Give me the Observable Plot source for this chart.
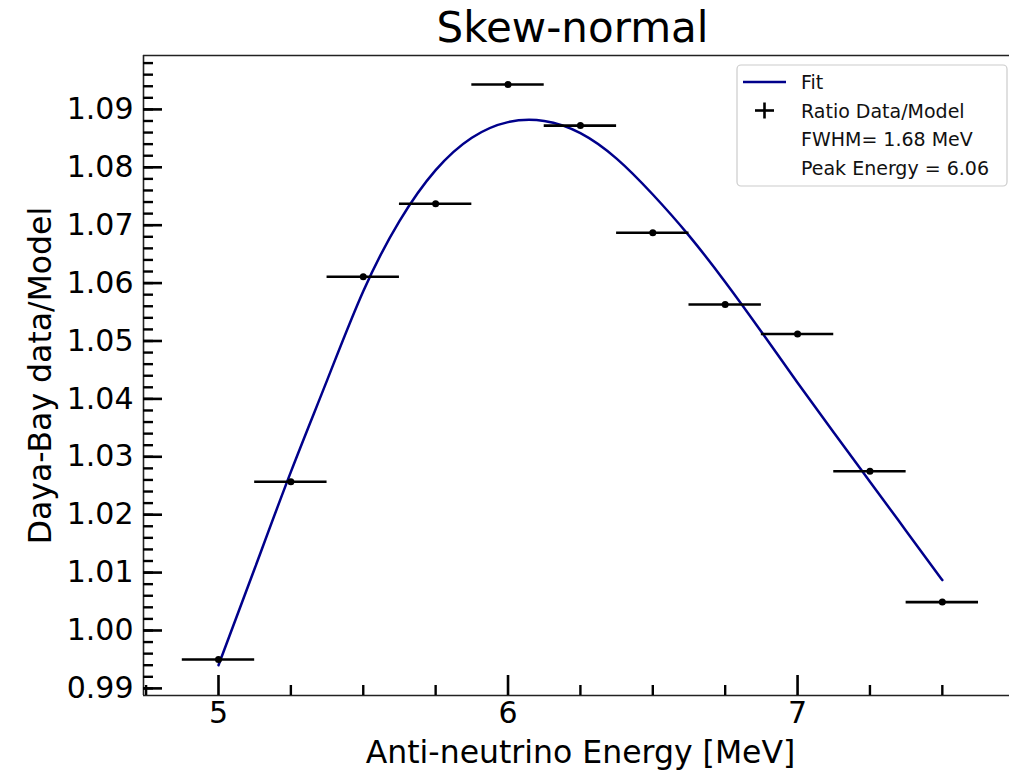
<!DOCTYPE html>
<html>
<head>
<meta charset="utf-8">
<script src="https://cdn.jsdelivr.net/npm/d3@7"></script>
<script src="https://cdn.jsdelivr.net/npm/@observablehq/plot@0.6"></script>
<style>
  html, body { margin: 0; padding: 0; background: white; }
  svg { display: block; }
</style>
</head>
<body>
<div id="chart"></div>
<script>
// ---- data ----
const energies = [5.0, 5.25, 5.5, 5.75, 6.0, 6.25, 6.5, 6.75, 7.0, 7.25, 7.5];
const ratios   = [0.9950, 1.0257, 1.0611, 1.0737, 1.0943, 1.0872, 1.0687, 1.0563, 1.0512, 1.0275, 1.0049];
const xErr = 0.125;

const fitEnergy = [5.000, 5.125, 5.250, 5.375, 5.500, 5.625, 5.750, 5.875, 6.000, 6.125,
                   6.250, 6.375, 6.500, 6.625, 6.750, 6.875, 7.000, 7.125, 7.250, 7.375, 7.500];
const fitRatio  = [0.9940, 1.0107, 1.0274, 1.0432, 1.0586, 1.0707, 1.0795, 1.0851, 1.0878, 1.0880,
                   1.0859, 1.0815, 1.0753, 1.0682, 1.0602, 1.0516, 1.0428, 1.0342, 1.0257, 1.0172, 1.0087];

const xTicks = [5, 6, 7];
const xMinorTicks = [4.75, 5.25, 5.5, 5.75, 6.25, 6.5, 6.75, 7.25, 7.5];
const yTicks = [0.99, 1.00, 1.01, 1.02, 1.03, 1.04, 1.05, 1.06, 1.07, 1.08, 1.09];
const yMinorTicks = d3.range(0, 55).map(i => +(0.99 + i * 0.002).toFixed(3));

const titleText = "Skew-normal";
const xLabel = "Anti-neutrino Energy [MeV]";
const yLabel = "Daya-Bay data/Model";
const legendLabels = ["Fit", "Ratio Data/Model", "FWHM= 1.68 MeV", "Peak Energy = 6.06"];

// ---- build ----
const points = energies.map((x, i) => ({x, y: ratios[i]}));
const fit = fitEnergy.map((x, i) => ({x, y: fitRatio[i]}));

const W = 1009, H = 771, mL = 143, mR = 0, mT = 55, mB = 76;
const frameW = W - mL - mR, frameH = H - mT - mB;
const xDomain = [4.741, 7.732];
const yDomain = [0.98877, 1.09931];
const fitColor = "#00008b";

const plot = Plot.plot({
  width: W, height: H,
  marginLeft: mL, marginRight: mR, marginTop: mT, marginBottom: mB,
  style: {fontFamily: "DejaVu Sans", background: "white", color: "black"},
  x: {domain: xDomain, axis: null},
  y: {domain: yDomain, axis: null},
  marks: [
    // spines
    Plot.ruleX([xDomain[0]], {stroke: "#222", strokeWidth: 1.6}),
    Plot.ruleY([yDomain[0], yDomain[1]], {stroke: "#222", strokeWidth: 1.6}),
    // inward ticks
    Plot.tickY(yMinorTicks, {y: d => d, insetRight: frameW - 10, stroke: "black", strokeWidth: 2.4}),
    Plot.tickY(yTicks, {y: d => d, insetRight: frameW - 19, stroke: "black", strokeWidth: 2.6}),
    Plot.tickX(xMinorTicks, {x: d => d, insetTop: frameH - 10, stroke: "black", strokeWidth: 2.4}),
    Plot.tickX(xTicks, {x: d => d, insetTop: frameH - 20, stroke: "black", strokeWidth: 2.6}),
    // tick labels
    Plot.axisY(yTicks, {tickSize: 0, tickPadding: 10, fontSize: 30, tickFormat: d3.format(".2f"), label: null}),
    Plot.axisX(xTicks, {tickSize: 0, tickPadding: 6, fontSize: 30, tickFormat: d3.format("d"), label: null}),
    // fit curve
    Plot.line(fit, {x: "x", y: "y", stroke: fitColor, strokeWidth: 2.5, curve: "natural"}),
    // data with x error bars
    Plot.ruleY(points, {x1: d => d.x - xErr, x2: d => d.x + xErr, y: "y", stroke: "black", strokeWidth: 2.6}),
    Plot.dot(points, {x: "x", y: "y", r: 3.5, fill: "black"}),
    // title and axis labels
    Plot.text([titleText], {text: d => d, frameAnchor: "top", lineAnchor: "middle", textAnchor: "middle", dx: -4, dy: -27, fontSize: 42}),
    Plot.text([xLabel], {text: d => d, frameAnchor: "bottom", lineAnchor: "middle", textAnchor: "middle", dx: 4, dy: 57, fontSize: 31.5}),
    Plot.text([yLabel], {text: d => d, frameAnchor: "left", lineAnchor: "middle", textAnchor: "middle", dx: -103, rotate: -90, fontSize: 31.5})
  ]
});

// ---- legend ----
const svg = d3.select(plot);
const lg = svg.append("g").attr("font-family", "DejaVu Sans").attr("font-size", 19).attr("text-anchor", "start");
const lx = 737, ly = 65, lw = 270, lh = 121, row = 28.5, r0 = 82;
lg.append("rect").attr("x", lx).attr("y", ly).attr("width", lw).attr("height", lh)
  .attr("rx", 4).attr("fill", "white").attr("fill-opacity", 0.85).attr("stroke", "#cccccc").attr("stroke-width", 1.2);
lg.append("line").attr("x1", 743).attr("x2", 786).attr("y1", r0).attr("y2", r0)
  .attr("stroke", fitColor).attr("stroke-width", 2.5);
lg.append("line").attr("x1", 755).attr("x2", 774).attr("y1", r0 + row).attr("y2", r0 + row)
  .attr("stroke", "black").attr("stroke-width", 2.6);
lg.append("line").attr("x1", 764.5).attr("x2", 764.5).attr("y1", r0 + row - 8).attr("y2", r0 + row + 8)
  .attr("stroke", "black").attr("stroke-width", 2.6);
legendLabels.forEach((t, i) => {
  lg.append("text").attr("x", 801).attr("y", r0 + i * row).attr("dominant-baseline", "central")
    .attr("text-anchor", "start").attr("fill", "#111").text(t);
});

document.getElementById("chart").appendChild(plot);
</script>
</body>
</html>
